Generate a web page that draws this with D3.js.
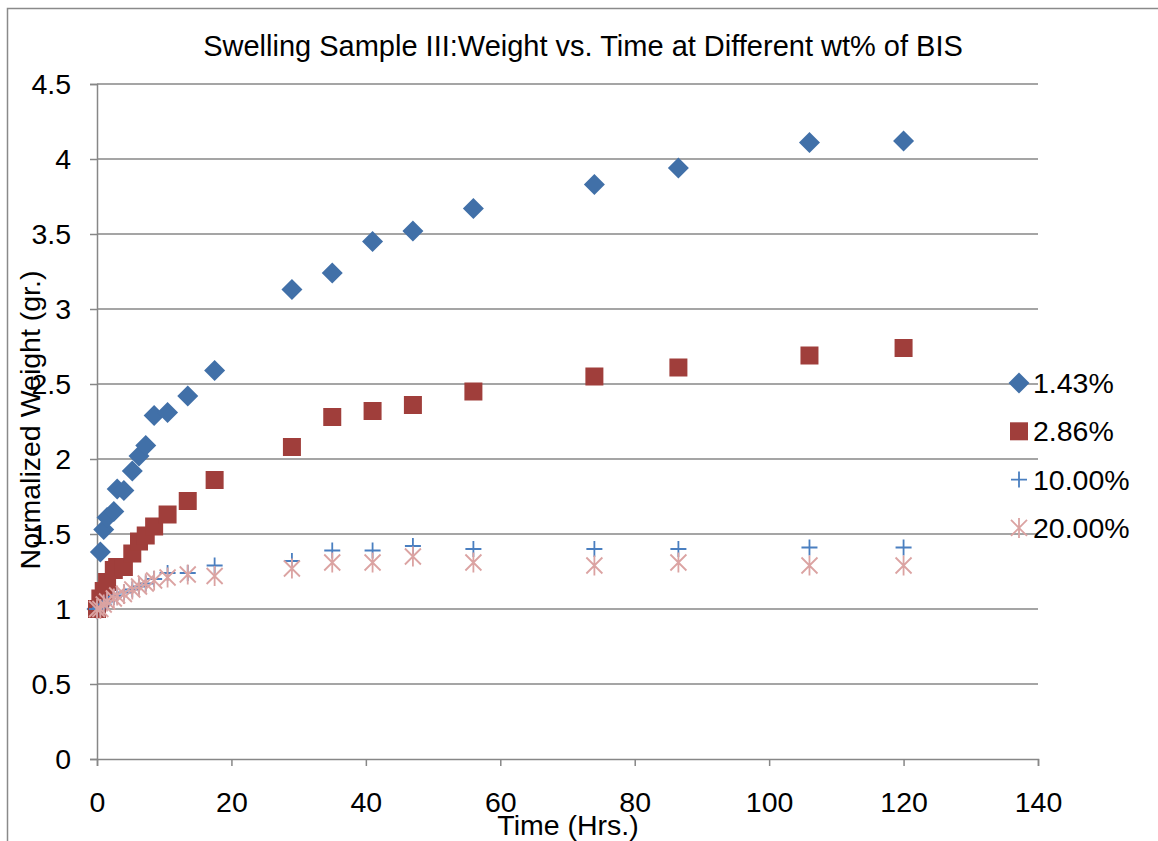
<!DOCTYPE html>
<html>
<head>
<meta charset="utf-8">
<script src="https://cdn.jsdelivr.net/npm/d3@7"></script>
<style>
  body { margin: 0; background: #fff; }
  text { font-family: "Liberation Sans", Arial, sans-serif; fill: #000; }
</style>
</head>
<body>
<svg id="chart" width="1158" height="841"></svg>
<script>
// time points (hrs)
var times = [0, 0.5, 1, 1.5, 2.5, 3, 4, 5.25, 6.25, 7.25, 8.5, 10.5, 13.5, 17.5, 29, 35, 41, 47, 56, 74, 86.5, 106, 120];

var w143 = [1.00, 1.38, 1.53, 1.61, 1.65, 1.80, 1.79, 1.92, 2.02, 2.09, 2.29, 2.31, 2.42, 2.59, 3.13, 3.24, 3.45, 3.52, 3.67, 3.83, 3.94, 4.11, 4.12];
var w286 = [1.00, 1.07, 1.12, 1.18, 1.26, 1.28, 1.28, 1.37, 1.45, 1.49, 1.55, 1.63, 1.72, 1.86, 2.08, 2.28, 2.32, 2.36, 2.45, 2.55, 2.61, 2.69, 2.74];
var w1000 = [1.00, 1.01, 1.03, 1.05, 1.08, 1.09, 1.11, 1.13, 1.15, 1.17, 1.20, 1.24, 1.24, 1.29, 1.32, 1.39, 1.39, 1.42, 1.40, 1.40, 1.40, 1.41, 1.41];
var w2000 = [1.00, 1.00, 1.03, 1.05, 1.07, 1.09, 1.10, 1.13, 1.15, 1.17, 1.19, 1.21, 1.23, 1.22, 1.27, 1.31, 1.31, 1.35, 1.31, 1.29, 1.31, 1.29, 1.29];

var seriesNames = ["1.43%", "2.86%", "10.00%", "20.00%"];
var xTicks = [0, 20, 40, 60, 80, 100, 120, 140];
var yTicks = [0, 0.5, 1, 1.5, 2, 2.5, 3, 3.5, 4, 4.5];

var series = [
  { name: seriesNames[0], values: w143, shape: "diamond", color: "#4170a8" },
  { name: seriesNames[1], values: w286, shape: "square", color: "#a03e3b" },
  { name: seriesNames[2], values: w1000, shape: "plus", color: "#4a7fc0" },
  { name: seriesNames[3], values: w2000, shape: "star", color: "#dba3a2" }
];

var svg = d3.select("#chart");
var grid = "#878787";
var fs = "28.5px";

// outer chart border
svg.append("rect")
  .attr("x", 7.5).attr("y", 8.5)
  .attr("width", 1170).attr("height", 860)
  .attr("fill", "none").attr("stroke", "#8a8a8a").attr("stroke-width", 1.5);

var x = d3.scaleLinear().domain([0, 140]).range([97, 1038]);
var y = d3.scaleLinear().domain([0, 4.5]).range([759, 84]);

// gridlines
svg.append("g").selectAll("line")
  .data(yTicks.slice(1))
  .enter().append("line")
    .attr("x1", x(0)).attr("x2", x(140))
    .attr("y1", function(d) { return y(d); })
    .attr("y2", function(d) { return y(d); })
    .attr("stroke", grid).attr("stroke-width", 1.5);

// y axis
var yAxis = svg.append("g")
  .attr("transform", "translate(" + x(0) + ",0)")
  .call(d3.axisLeft(y).tickValues(yTicks).tickSize(7).tickPadding(19)
    .tickFormat(function(d) { return d; }));
yAxis.select(".domain").attr("stroke", grid).attr("stroke-width", 1.5);
yAxis.selectAll(".tick line").attr("stroke", grid).attr("stroke-width", 1.5);
yAxis.selectAll(".tick text")
  .style("font-family", "'Liberation Sans', Arial, sans-serif")
  .style("font-size", fs).attr("fill", "#000");

// x axis
var xAxis = svg.append("g")
  .attr("transform", "translate(0," + y(0) + ")")
  .call(d3.axisBottom(x).tickValues(xTicks).tickSize(7).tickPadding(26));
xAxis.select(".domain").attr("stroke", grid).attr("stroke-width", 1.5);
xAxis.selectAll(".tick line").attr("stroke", grid).attr("stroke-width", 1.5);
xAxis.selectAll(".tick text")
  .style("font-family", "'Liberation Sans', Arial, sans-serif")
  .style("font-size", fs).attr("fill", "#000");

// titles
svg.append("text")
  .attr("x", 583).attr("y", 56)
  .attr("text-anchor", "middle")
  .style("font-size", "29px")
  .text("Swelling Sample III:Weight vs. Time at Different wt% of BIS");

svg.append("text")
  .attr("x", 568).attr("y", 835)
  .attr("text-anchor", "middle")
  .style("font-size", fs)
  .text("Time (Hrs.)");

svg.append("text")
  .attr("transform", "translate(40,420) rotate(-90)")
  .attr("text-anchor", "middle")
  .style("font-size", fs)
  .text("Normalized Weight (gr.)");

// marker drawing
function drawMarker(g, shape, color) {
  if (shape === "diamond") {
    g.append("path").attr("d", "M0,-10.5L10.5,0L0,10.5L-10.5,0Z").attr("fill", color);
  } else if (shape === "square") {
    g.append("rect").attr("x", -9).attr("y", -9).attr("width", 18).attr("height", 18).attr("fill", color);
  } else if (shape === "plus") {
    g.append("path").attr("d", "M-8,0H8M0,-8V8").attr("stroke", color).attr("stroke-width", 1.8).attr("fill", "none");
  } else {
    g.append("path").attr("d", "M-8,-8L8,8M-8,8L8,-8M0,-10V10")
      .attr("stroke", color).attr("stroke-width", 1.8).attr("fill", "none");
  }
}

var plot = svg.append("g");
series.forEach(function(s) {
  plot.append("g").selectAll("g")
    .data(s.values)
    .enter().append("g")
      .attr("transform", function(d, i) { return "translate(" + x(times[i]) + "," + y(d) + ")"; })
      .each(function() { drawMarker(d3.select(this), s.shape, s.color); });
});

// legend
var legend = svg.append("g");
series.forEach(function(s, i) {
  var ly = 383 + i * 48.3;
  var m = legend.append("g").attr("transform", "translate(1019," + ly + ")");
  drawMarker(m, s.shape, s.color);
  legend.append("text")
    .attr("x", 1033).attr("y", ly + 10)
    .style("font-size", fs)
    .text(s.name);
});
</script>
</body>
</html>
